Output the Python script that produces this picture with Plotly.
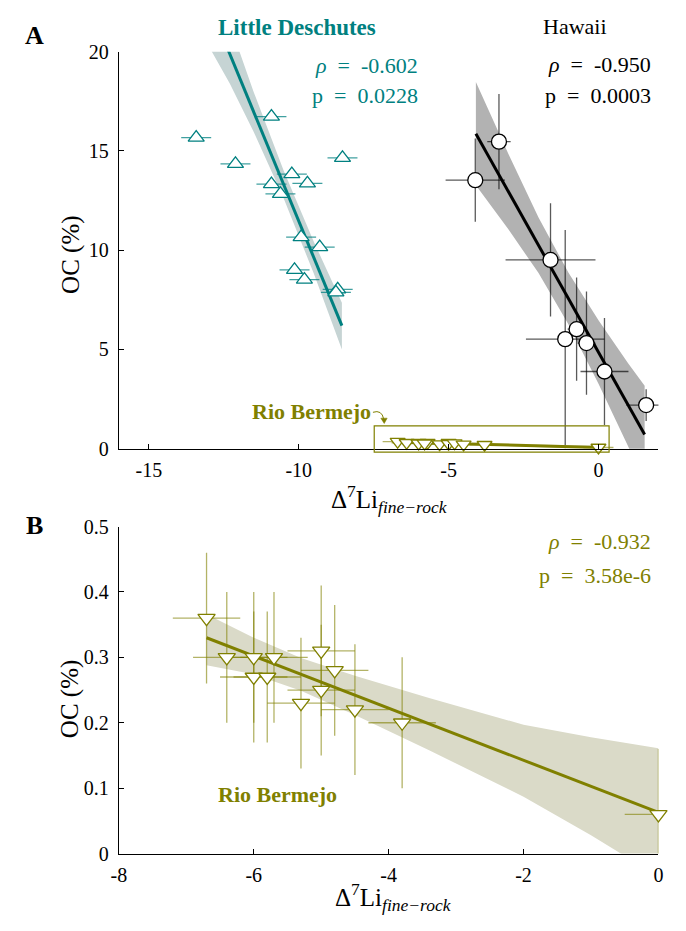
import plotly.graph_objects as go

W, H = 686, 931
FONT = "Liberation Serif"
TEAL = "#008080"
OLIVE = "#808000"
SP = "\u2002"

# ---------------- data ----------------
# Little Deschutes
ld_x = [-13.42, -10.91, -12.11, -8.54, -10.23, -10.91, -9.71, -10.61, -9.92, -9.30, -10.14, -9.81, -8.70, -8.76]
ld_y = [15.67, 16.73, 14.35, 14.65, 13.83, 13.33, 13.37, 12.84, 10.66, 10.16, 9.01, 8.52, 8.03, 7.88]
ld_xerr = [0.5, 0.5, 0.5, 0.5, 0.5, 0.5, 0.5, 0.5, 0.5, 0.5, 0.5, 0.5, 0.5, 0.5]
ld_fit_x = [-13.42, -8.56]
ld_fit_y = [23.99, 6.20]
ld_band_x = [-13.42, -12.3, -11.5, -10.5, -9.5, -8.56]
ld_band_lo = [21.4, 18.4, 15.96, 12.6, 8.84, 5.0]
ld_band_hi = [26.6, 21.4, 17.96, 14.0, 10.44, 7.35]

# Hawaii
hw_x = [-4.11, -3.32, -1.60, -1.11, -0.73, -0.40, 0.20, 1.59]
hw_y = [13.53, 15.47, 9.51, 5.52, 6.02, 5.32, 3.89, 2.20]
hw_xerr = [0.99, 0.39, 1.50, 1.31, 0.30, 0.30, 0.80, 0.66]
hw_yerr = [2.10, 2.40, 2.85, 5.50, 2.60, 2.60, 2.70, 0.80]
hw_fit_x = [-4.09, 1.54]
hw_fit_y = [15.87, 0.72]
hw_band_x = [-4.09, -3.0, -2.0, -1.0, 0.0, 1.0, 1.54]
hw_band_lo = [13.27, 11.04, 8.85, 6.26, 3.27, 0.08, -1.73]
hw_band_hi = [18.47, 14.84, 11.65, 8.86, 6.47, 4.28, 3.17]

# Rio Bermejo
rb_x = [-6.7, -6.4, -6.0, -5.7, -6.0, -5.8, -5.3, -5.0, -5.0, -4.8, -4.5, -3.8, 0.0]
rb_y = [0.36, 0.30, 0.30, 0.30, 0.27, 0.27, 0.23, 0.31, 0.25, 0.28, 0.22, 0.20, 0.06]
rb_xerr = [0.5, 0.5, 0.5, 0.5, 0.5, 0.5, 0.5, 0.5, 0.5, 0.5, 0.5, 0.5, 0.5]
rb_yerr = [0.1, 0.1, 0.1, 0.1, 0.1, 0.1, 0.1, 0.1, 0.1, 0.1, 0.1, 0.1, 0.1]
rb_fit_x = [-6.70, 0.0]
rb_fit_y = [0.330, 0.063]
rb_band_x = [-6.7, -6.0, -5.3, -4.5, -3.4, -2.0, -1.0, 0.0]
rb_band_lo = [0.288, 0.274, 0.249, 0.212, 0.158, 0.087, 0.028, -0.035]
rb_band_hi = [0.366, 0.330, 0.299, 0.272, 0.238, 0.197, 0.178, 0.161]

# ticks
a_xticks = [-15, -10, -5, 0]
a_xticklabels = ["-15", "-10", "-5", "0"]
a_yticks = [0, 5, 10, 15, 20]
a_yticklabels = ["0", "5", "10", "15", "20"]
b_xticks = [-8, -6, -4, -2, 0]
b_xticklabels = ["-8", "-6", "-4", "-2", "0"]
b_yticks = [0, 0.1, 0.2, 0.3, 0.4, 0.5]
b_yticklabels = ["0", "0.1", "0.2", "0.3", "0.4", "0.5"]


def px(x):
    return x / W


def py(y):
    return 1 - y / H


fig = go.Figure()


def add_group(xa, ya, bx, blo, bhi, bcol, fx, fy, lcol, lw, x, y, xerr, yerr,
              ecol, symbol, msize, mline):
    fig.add_trace(go.Scatter(
        x=list(bx) + list(bx)[::-1], y=list(bhi) + list(blo)[::-1],
        fill="toself", fillcolor=bcol, line=dict(width=0), mode="lines",
        xaxis=xa, yaxis=ya, hoverinfo="skip", showlegend=False))
    fig.add_trace(go.Scatter(
        x=fx, y=fy, mode="lines", line=dict(color=lcol, width=lw),
        xaxis=xa, yaxis=ya, showlegend=False))
    ex = dict(type="data", array=xerr, color=ecol, thickness=1.3, width=0)
    ey = dict(type="data", array=yerr, color=ecol, thickness=1.3, width=0) if yerr else None
    fig.add_trace(go.Scatter(
        x=x, y=y, mode="markers", marker=dict(size=2, opacity=0),
        error_x=ex, error_y=ey, xaxis=xa, yaxis=ya, showlegend=False,
        cliponaxis=True))
    fig.add_trace(go.Scatter(
        x=x, y=y, mode="markers",
        marker=dict(symbol=symbol, size=msize, color="white",
                    line=dict(color=mline, width=1.3)),
        xaxis=xa, yaxis=ya, showlegend=False, cliponaxis=False))


# Panel A
add_group("x", "y", ld_band_x, ld_band_lo, ld_band_hi, "rgb(198,212,212)",
          ld_fit_x, ld_fit_y, TEAL, 3, ld_x, ld_y, ld_xerr, None,
          "rgba(0,128,128,0.75)", "triangle-up", 14, TEAL)
add_group("x", "y", hw_band_x, hw_band_lo, hw_band_hi, "rgb(178,178,178)",
          hw_fit_x, hw_fit_y, "black", 3, hw_x, hw_y, hw_xerr, hw_yerr,
          "rgba(0,0,0,0.65)", "circle", 15, "black")
add_group("x", "y", rb_band_x, rb_band_lo, rb_band_hi, "rgb(218,218,200)",
          rb_fit_x, rb_fit_y, OLIVE, 3, rb_x, rb_y, rb_xerr, rb_yerr,
          "rgba(128,128,0,0.6)", "triangle-down", 13, OLIVE)
# Panel B
add_group("x2", "y2", rb_band_x, rb_band_lo, rb_band_hi, "rgb(218,218,200)",
          rb_fit_x, rb_fit_y, OLIVE, 3, rb_x, rb_y, rb_xerr, rb_yerr,
          "rgba(128,128,0,0.6)", "triangle-down", 15, OLIVE)

axis_common = dict(showline=True, linecolor="black", linewidth=1,
                   ticks="inside", ticklen=5, tickwidth=1, tickcolor="black",
                   showgrid=False, zeroline=False, tickmode="array",
                   tickfont=dict(family=FONT, size=20, color="black"))

fig.update_layout(
    width=W, height=H, margin=dict(l=0, r=0, t=0, b=0),
    paper_bgcolor="white", plot_bgcolor="white", showlegend=False,
    xaxis=dict(domain=[px(113), px(663)], range=[-16, 2], anchor="y",
               tickvals=a_xticks, ticktext=a_xticklabels, ticklabelstandoff=3,
               **axis_common),
    yaxis=dict(domain=[py(448.3), py(41.7)], range=[0, 20], anchor="x",
               tickvals=a_yticks, ticktext=a_yticklabels, ticklabelstandoff=5,
               **axis_common),
    xaxis2=dict(domain=[px(113), px(663)], range=[-8, 0], anchor="y2",
                tickvals=b_xticks, ticktext=b_xticklabels, ticklabelstandoff=3,
                **axis_common),
    yaxis2=dict(domain=[py(863), py(528)], range=[0, 0.5], anchor="x2",
                tickvals=b_yticks, ticktext=b_yticklabels, ticklabelstandoff=5,
                **axis_common),
)


def note(text, x, y, size=21, color="black", xanchor="center", bold=False,
         textangle=0):
    if bold:
        text = "<b>" + text + "</b>"
    fig.add_annotation(text=text, x=px(x), y=py(y), xref="paper", yref="paper",
                       xanchor=xanchor, yanchor="middle", showarrow=False,
                       textangle=textangle,
                       font=dict(family=FONT, size=size, color=color))


note("A", 27, 25, size=26, bold=True)
note("B", 27, 527, size=26, bold=True)
note("Little Deschutes", 295, 17, size=23, color=TEAL, bold=True)
note("Hawaii", 578, 16, size=22)
note(f"<i>ρ</i>{SP}={SP}-0.602", 420, 56, size=22, color=TEAL, xanchor="right")
note(f"p{SP}={SP}0.0228", 420, 87, size=22, color=TEAL, xanchor="right")
note(f"<i>ρ</i>{SP}={SP}-0.950", 657, 55, size=22, xanchor="right")
note(f"p{SP}={SP}0.0003", 657, 87, size=22, xanchor="right")
note(f"<i>ρ</i>{SP}={SP}-0.932", 657, 543, size=22, color=OLIVE, xanchor="right")
note(f"p{SP}={SP}3.58e-6", 657, 578, size=22, color=OLIVE, xanchor="right")
note("Rio Bermejo", 309, 410, size=22, color=OLIVE, bold=True)
note("Rio Bermejo", 275, 802, size=22, color=OLIVE, bold=True)
note("OC (%)", 64, 250, size=25, textangle=-90)
note("OC (%)", 64, 705, size=25, textangle=-90)
xt = "Δ<sup>7</sup>Li<sub><i>fine−rock</i></sub>"
note(xt, 389, 500, size=25)
note(xt, 393, 907, size=25)

# Rio Bermejo zoom box and arrow in panel A
fig.add_shape(type="rect", xref="paper", yref="paper",
              x0=px(373.3), x1=px(612.7), y0=py(451.7), y1=py(425),
              line=dict(color=OLIVE, width=1.2))
fig.add_shape(type="path", xref="paper", yref="paper",
              path=f"M {px(372)},{py(411)} Q {px(381)},{py(408)} {px(383)},{py(418)}",
              line=dict(color=OLIVE, width=1))
fig.add_shape(type="path", xref="paper", yref="paper",
              path=(f"M {px(380)},{py(417)} L {px(386.5)},{py(417)} "
                    f"L {px(383.5)},{py(422.5)} Z"),
              fillcolor=OLIVE, line=dict(color=OLIVE, width=0.5))

fig.write_html("out.html")
